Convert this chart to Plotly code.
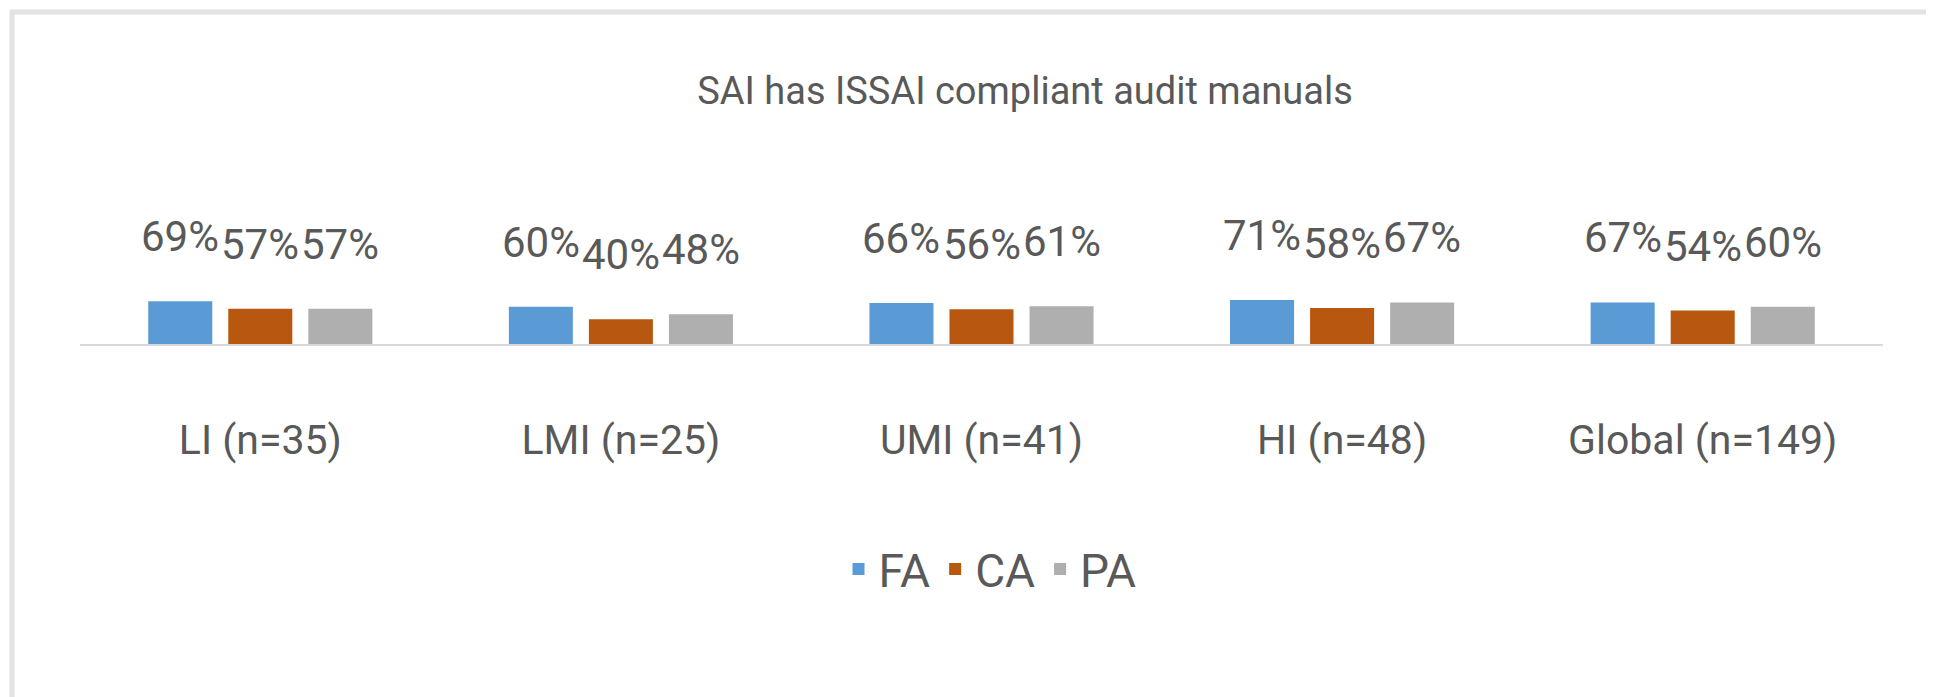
import plotly.graph_objects as go

categories = ["LI (n=35)", "LMI (n=25)", "UMI (n=41)", "HI (n=48)", "Global (n=149)"]
series_names = ["FA", "CA", "PA"]
fa_values = [69, 60, 66, 71, 67]
ca_values = [57, 40, 56, 58, 54]
pa_values = [57, 48, 61, 67, 60]
title_text = "SAI has ISSAI compliant audit manuals"

colors = ["#5B9BD5", "#B85810", "#AFAFAF"]
FONT = "Roboto, Lato, Open Sans, sans-serif"
TXT = "#595959"

W, H = 1934, 697
OFF = 8  # page body margin offset
L, R = 80 - OFF, 51 + OFF
T, B = 282 - OFF, 353 + OFF
BARGAP = 0.334
GROUPGAP = 0.2

all_series = [fa_values, ca_values, pa_values]
x_idx = list(range(len(categories)))

fig = go.Figure()
for name, vals, col in zip(series_names, all_series, colors):
    fig.add_trace(go.Bar(name=name, x=x_idx, y=vals, marker=dict(color=col, line=dict(width=0)),
                         hoverinfo="skip"))

slot = (1 - BARGAP) / len(series_names)
annotations = []
for si, vals in enumerate(all_series):
    off = (si - (len(series_names) - 1) / 2) * slot
    for ci, v in enumerate(vals):
        annotations.append(dict(x=ci + off, y=v, xref="x", yref="y", text=f"{v}%",
                                showarrow=False, yanchor="bottom", xanchor="center", yshift=38,
                                font=dict(family=FONT, size=42, color=TXT)))

fig.update_layout(
    width=W, height=H,
    margin=dict(l=L, r=R, t=T, b=B, autoexpand=False),
    paper_bgcolor="white", plot_bgcolor="white",
    barmode="group", bargap=BARGAP, bargroupgap=GROUPGAP,
    title=dict(text=title_text, x=(1025 - OFF) / W, xanchor="center", y=1 - (91 - OFF) / H, yanchor="middle",
               xref="container", yref="container",
               font=dict(family=FONT, size=38, color=TXT)),
    xaxis=dict(tickmode="array", tickvals=x_idx, ticktext=categories, range=[-0.5, len(categories) - 0.5],
               showline=True, linecolor="#D9D9D9", linewidth=2, showgrid=False, zeroline=False,
               ticks="outside", ticklen=59, tickcolor="rgba(0,0,0,0)", automargin=False,
               tickfont=dict(family=FONT, size=41, color=TXT)),
    yaxis=dict(visible=False, range=[0, 100], fixedrange=True, automargin=False),
    legend=dict(orientation="h", xref="container", yref="container", x=(990 - OFF) / W, xanchor="center",
                y=1 - (569 - OFF) / H, yanchor="middle", font=dict(family=FONT, size=46, color=TXT),
                itemclick=False, bgcolor="rgba(0,0,0,0)"),
    annotations=annotations,
    showlegend=True,
)

# light border around chart area
pw, ph = W - L - R, H - T - B
fig.add_shape(type="rect", xref="paper", yref="paper",
              x0=(12 - OFF - L) / pw, x1=(W + 10 - L) / pw,
              y0=(H - B - (H + 5)) / ph, y1=(H - B - (12 - OFF)) / ph,
              line=dict(color="#E3E3E3", width=5), fillcolor="rgba(0,0,0,0)", layer="below")

fig.write_html("out.html")
